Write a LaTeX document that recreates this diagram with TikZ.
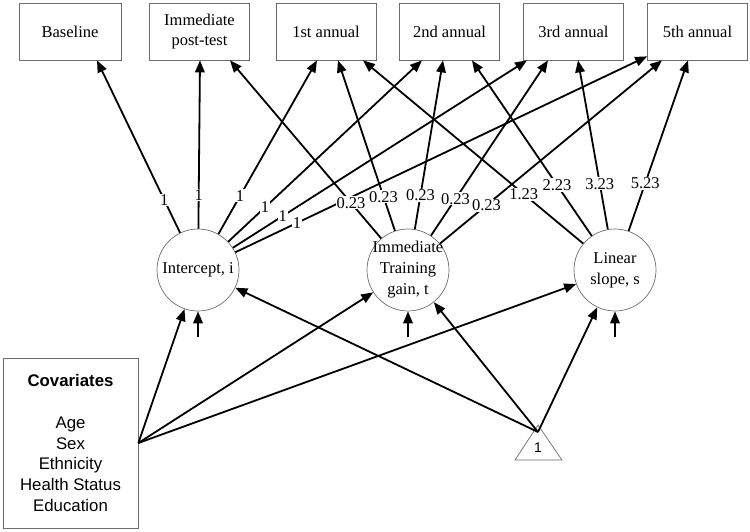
\documentclass[tikz,border=0pt]{standalone}
\usepackage{fontspec}
\setmainfont{Liberation Serif}
\newfontfamily\arialf{Liberation Sans}
\usetikzlibrary{arrows.meta,calc}
\begin{document}
\begin{tikzpicture}[x=1pt,y=-1pt,
  box/.style={draw=gray!85!black, line width=0.7pt, minimum width=100pt, minimum height=57pt, inner sep=0pt, align=center, font=\fontsize{16.5}{20}\selectfont},
  lat/.style={circle, draw=gray!85!black, line width=0.7pt, minimum size=82pt, inner sep=0pt},
  lattext/.style={align=center, font=\fontsize{16.5}{21}\selectfont},
  arr/.style={line width=1.8pt, -{Triangle[length=12pt,width=9.5pt]}},
  lbl/.style={fill=white, inner sep=1pt, font=\fontsize{16.5}{18}\selectfont},
]
\path[use as bounding box] (0,0) rectangle (750,531);

% observed boxes
\node[box, minimum width=102pt] (b0) at (70,31.5) {Baseline};
\node[box] (b1) at (199.5,31.5) {Immediate\\post-test};
\node[box] (b2) at (326,31.5) {1st annual};
\node[box] (b3) at (449.5,31.5) {2nd annual};
\node[box] (b4) at (573.5,31.5) {3rd annual};
\node[box] (b5) at (697.5,31.5) {5th annual};

% latent factors
\node[lat, label={[lattext]center:Intercept, i}] (ci) at (198,270) {};
\node[lat, label={[lattext]center:Immediate\\Training\\gain, t}] (ct) at (408,270) {};
\node[lat, label={[lattext]center:Linear\\slope, s}] (cs) at (615,270) {};

% covariates
\node[draw=gray!85!black, line width=0.7pt, minimum width=135pt, minimum height=170pt, inner sep=0pt, align=center,
      font=\arialf\fontsize{16.8}{20.7}\selectfont] (cov) at (70.5,443)
      {\textbf{Covariates}\\[20.7pt]Age\\Sex\\Ethnicity\\Health Status\\Education};

% constant triangle
\draw[gray!85!black, line width=0.7pt] (515,460) -- (538,425) -- (562,460) -- cycle;
\node[font=\arialf\fontsize{14}{14}\selectfont, inner sep=0pt] (one) at (538,448) {1};
\coordinate (tri) at (538,432);

% targets on boxes
\coordinate (t0i) at ([xshift=27pt]b0.south);
\coordinate (t1i) at ([xshift=0.5pt]b1.south);
\coordinate (t1t) at ([xshift=30.5pt]b1.south);
\coordinate (t2i) at ([xshift=-9pt]b2.south);
\coordinate (t2t) at ([xshift=12pt]b2.south);
\coordinate (t2s) at ([xshift=37pt]b2.south);
\coordinate (t3i) at ([xshift=-27.5pt]b3.south);
\coordinate (t3t) at ([xshift=-6.5pt]b3.south);
\coordinate (t3s) at ([xshift=22.5pt]b3.south);
\coordinate (t4i) at ([xshift=-46.5pt]b4.south);
\coordinate (t4t) at ([xshift=-25.5pt]b4.south);
\coordinate (t4s) at ([xshift=4.5pt]b4.south);
\coordinate (t5i) at ([yshift=4pt]b5.south west);
\coordinate (t5t) at ([xshift=-35.5pt]b5.south);
\coordinate (t5s) at ([xshift=-9.5pt]b5.south);

% loadings
\foreach \t in {t0i,t1i,t2i,t3i,t4i,t5i} \draw[arr] (ci) -- (\t);
\foreach \t in {t1t,t2t,t3t,t4t,t5t} \draw[arr] (ct) -- (\t);
\foreach \t in {t2s,t3s,t4s,t5s} \draw[arr] (cs) -- (\t);

% covariate and constant paths
\draw[arr] (cov.east) -- (ci);
\draw[arr] (cov.east) -- (ct);
\draw[arr] (cov.east) -- (cs);
\draw[arr] (tri) -- (ci);
\draw[arr] (tri) -- (ct);
\draw[arr] (tri) -- (cs);

% residuals
\coordinate (ri) at ([yshift=-26pt]ci.south);
\coordinate (rt) at ([yshift=-26pt]ct.south);
\coordinate (rs) at ([yshift=-26pt]cs.south);
\draw[arr] (ri) -- (ci.south);
\draw[arr] (rt) -- (ct.south);
\draw[arr] (rs) -- (cs.south);

% labels
\path (ci) -- (t0i) node[lbl, pos=0.19] {1};
\path (ci) -- (t1i) node[lbl, pos=0.2] {1};
\path (ci) -- (t2i) node[lbl, pos=0.22] {1};
\path (ci) -- (t3i) node[lbl, pos=0.19] {1};
\path (ci) -- (t4i) node[lbl, pos=0.17] {1};
\path (ci) -- (t5i) node[lbl, pos=0.15] {1};
\path (ct) -- (t1t) node[lbl, pos=0.2] {0.23};
\path (ct) -- (t2t) node[lbl, pos=0.2] {0.23};
\path (ct) -- (t3t) node[lbl, pos=0.2] {0.23};
\path (ct) -- (t4t) node[lbl, pos=0.21] {0.23};
\path (ct) -- (t5t) node[lbl, pos=0.21] {0.23};
\path (cs) -- (t2s) node[lbl, pos=0.27] {1.23};
\path (cs) -- (t3s) node[lbl, pos=0.29] {2.23};
\path (cs) -- (t4s) node[lbl, pos=0.27] {3.23};
\path (cs) -- (t5s) node[lbl, pos=0.28] {5.23};
\end{tikzpicture}
\end{document}
